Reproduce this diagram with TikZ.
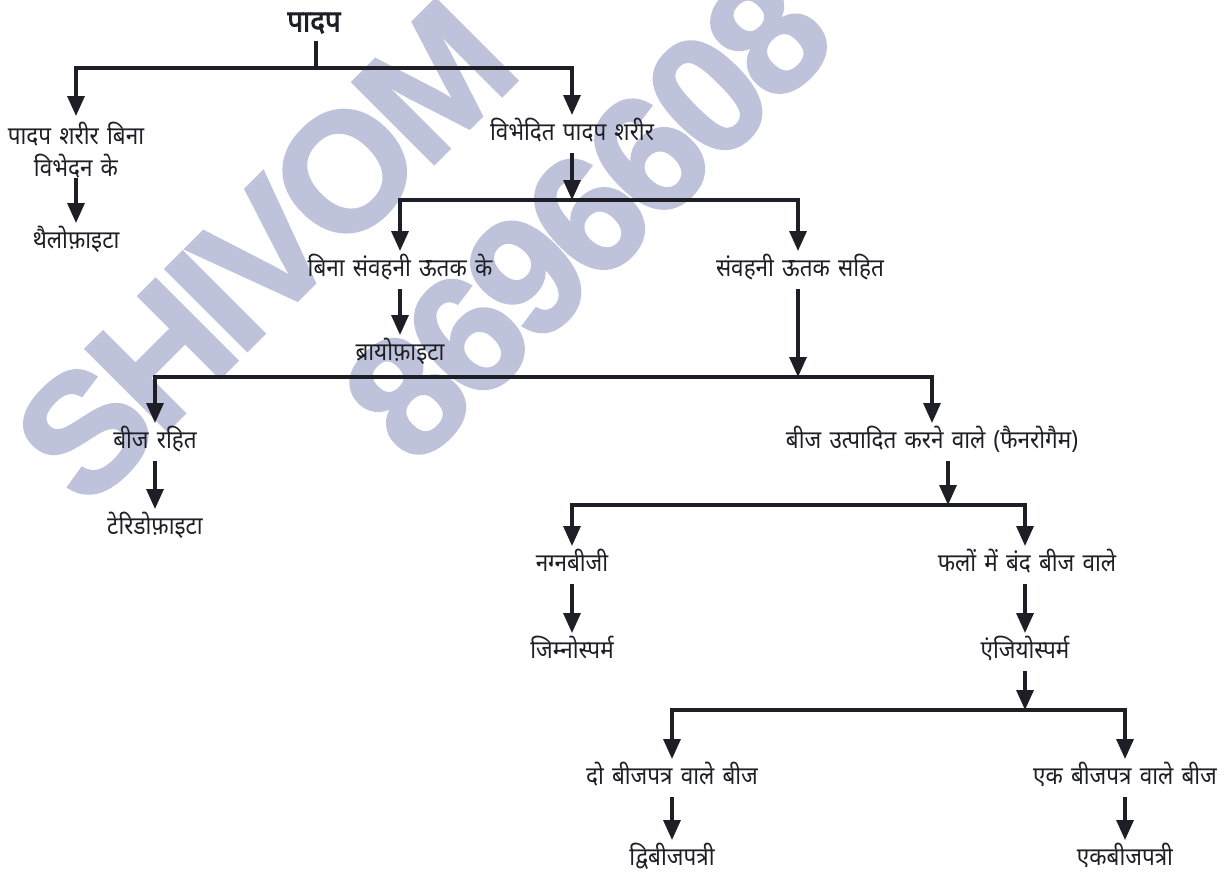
\documentclass[tikz,border=0pt]{standalone}
\usepackage{fontspec}
\newfontfamily\dev[Script=Devanagari,FakeStretch=0.9,WordSpace=1.4]{Noto Sans}
\newfontfamily\devbold[Script=Devanagari,FakeStretch=0.92,FakeBold=2.5]{Noto Sans}
\newfontfamily\wm[LetterSpace=-5,FakeBold=1.5]{Liberation Sans}
\usetikzlibrary{arrows.meta}
\definecolor{ink}{HTML}{1E1E26}
\definecolor{wmark}{HTML}{BEC2DA}
\tikzset{
  lbl/.style={font=\dev\fontsize{25}{30}\selectfont, text=ink, inner sep=0pt, text height=18pt, text depth=6pt, outer ysep=7pt},
  lbltwo/.style={font=\dev\fontsize{25}{32}\selectfont, text=ink, inner sep=0pt, outer ysep=6pt, align=center},
  rootlbl/.style={font=\devbold\fontsize{30}{34}\selectfont, text=ink, inner sep=0pt, text height=21pt, text depth=6pt, outer ysep=3pt},
  conn/.style={draw=ink, line width=3.3pt},
  arr/.style={conn, -{Triangle[length=20pt,width=17pt]}},
  wmtext/.style={font=\wm\bfseries\fontsize{168}{168}\selectfont, text=wmark, rotate=45, anchor=base west, inner sep=0pt}
}
\begin{document}
\begin{tikzpicture}[x=1pt,y=-1pt]
\fill[white] (0,0) rectangle (1231,873);
\useasboundingbox (0,0) rectangle (1231,873);
% watermark
\node[wmtext] (wm1) at (86,512) {SHIVOM};
\node[wmtext] (wm2) at (415,470) {8696608};
% nodes
\node[rootlbl] (root) at (314,24) {पादप};
\node[lbltwo] (n1a) at (76,150) {पादप शरीर बिना\\विभेदन के};
\node[lbl] (n1b) at (572,134) {विभेदित पादप शरीर};
\node[lbl] (thal) at (76,242) {थैलोफ़ाइटा};
\node[lbl] (n2a) at (400,270) {बिना संवहनी ऊतक के};
\node[lbl] (n2b) at (800,270) {संवहनी ऊतक सहित};
\node[lbl] (bryo) at (400,354) {ब्रायोफ़ाइटा};
\node[lbl] (n3a) at (155,442) {बीज रहित};
\node[lbl] (pter) at (155,528) {टेरिडोफ़ाइटा};
\node[lbl] (n3b) at (932,442) {बीज उत्पादित करने वाले (फैनरोगैम)};
\node[lbl] (n4a) at (572,565) {नग्नबीजी};
\node[lbl] (gym) at (572,652) {जिम्नोस्पर्म};
\node[lbl] (n4b) at (1027,565) {फलों में बंद बीज वाले};
\node[lbl] (ang) at (1025,652) {एंजियोस्पर्म};
\node[lbl] (n5a) at (672,778) {दो बीजपत्र वाले बीज};
\node[lbl] (di) at (672,859) {द्विबीजपत्री};
\node[lbl] (n5b) at (1125,778) {एक बीजपत्र वाले बीज};
\node[lbl] (mono) at (1125,859) {एकबीजपत्री};
% junctions
\coordinate (j1) at (316,68);
\coordinate (j2) at (572,200);
\coordinate (j3) at (798,377);
\coordinate (j4) at (948,505);
\coordinate (j5) at (1025,710);
% connectors
\draw[conn] (root.south -| j1) -- (j1);
\draw[arr] (j1) -| (n1a.north);
\draw[arr] (j1) -| (n1b.north);
\draw[arr, shorten <=-6pt] (n1a.south) -- (thal.north);
\draw[arr] (n1b.south) -- (j2);
\draw[arr] (j2) -| (n2a.north);
\draw[arr] (j2) -| (n2b.north -| j3);
\draw[arr] (n2a.south) -- (bryo.north);
\draw[arr] (n2b.south -| j3) -- (j3);
\draw[arr] (j3) -| (n3a.north);
\draw[arr] (j3) -| (n3b.north);
\draw[arr] (n3a.south) -- (pter.north);
\draw[arr] (n3b.south -| j4) -- (j4);
\draw[arr] (j4) -| (n4a.north);
\draw[arr] (j4) -| (n4b.north -| j5);
\draw[arr] (n4a.south) -- (gym.north);
\draw[arr] (n4b.south -| j5) -- (ang.north);
\draw[arr] (ang.south) -- (j5);
\draw[arr] (j5) -| (n5a.north);
\draw[arr] (j5) -| (n5b.north);
\draw[arr] (n5a.south) -- (di.north);
\draw[arr] (n5b.south) -- (mono.north);
\end{tikzpicture}
\end{document}
